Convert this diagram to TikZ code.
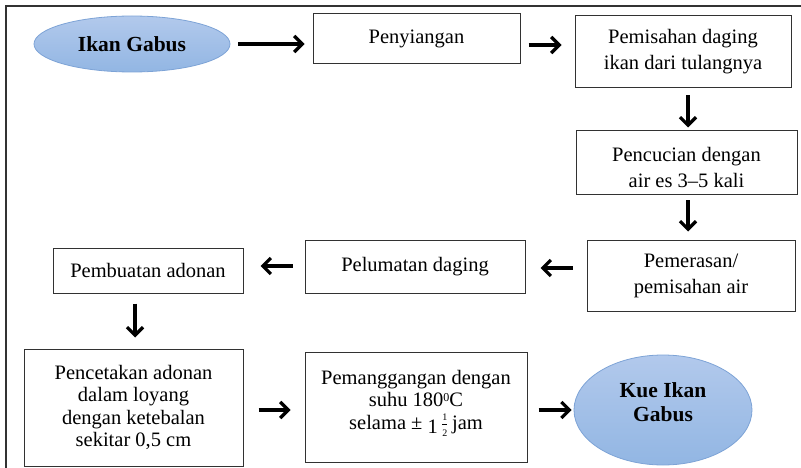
\documentclass[tikz,border=0pt]{standalone}
\usepackage{fontspec}
\setmainfont{Liberation Serif}
\usetikzlibrary{arrows.meta,shapes.geometric,calc}
\definecolor{boxline}{RGB}{50,50,50}
\definecolor{ovaltop}{RGB}{178,201,236}
\definecolor{ovalbot}{RGB}{146,182,227}
\definecolor{ovalline}{RGB}{125,163,214}
\begin{document}
\begin{tikzpicture}[x=1pt,y=-1pt,
  stepbox/.style={draw=boxline,line width=1pt,inner sep=0pt,align=center,
    font=\fontsize{20.5}{26}\selectfont},
  tight/.style={font=\fontsize{20.5}{22.5}\selectfont},
  boxtext/.style={inner sep=0pt,align=center,font=\fontsize{20.5}{26}\selectfont},
  oval/.style={ellipse,draw=ovalline,line width=0.8pt,top color=ovaltop,
    bottom color=ovalbot,inner sep=0pt,align=center,
    font=\bfseries\fontsize{21.5}{24}\selectfont},
  ovaltext/.style={inner sep=0pt,align=center,font=\bfseries\fontsize{21.5}{24}\selectfont},
  flow/.style={line width=3.2pt,-{Straight Barb[length=8pt,width=16pt]}}
]
\useasboundingbox (0,0) rectangle (801,468);
% outer frame (left and top edges)
\draw[boxline,line width=1.2pt] (6,468) -- (6,6) -- (801,6);

% process steps
\node[oval,minimum width=196pt,minimum height=56pt] (ikan) at (132,44) {Ikan Gabus};
\node[stepbox,minimum width=207pt,minimum height=50pt] (peny) at (416.5,39) {Penyiangan};
\node[stepbox,minimum width=216pt,minimum height=72pt] (pemis) at (683,52)
  {Pemisahan daging\\ikan dari tulangnya};
\node[stepbox,minimum width=221pt,minimum height=64pt,
  label={[boxtext,yshift=-4pt]center:Pencucian dengan\\air es 3--5 kali}] (pencuc) at (686.5,163) {};
\node[stepbox,minimum width=208pt,minimum height=71pt] (pemer) at (691,275.5)
  {Pemerasan/\\pemisahan air};
\node[stepbox,minimum width=220pt,minimum height=53pt] (pelum) at (415,266.5)
  {Pelumatan daging};
\node[stepbox,minimum width=190pt,minimum height=45pt] (pemb) at (148,270.5)
  {Pembuatan adonan};
\node[stepbox,tight,minimum width=219pt,minimum height=117pt] (pencet) at (133.5,407.5)
  {Pencetakan adonan\\dalam loyang\\dengan ketebalan\\sekitar 0,5 cm};
\node[stepbox,minimum width=222pt,minimum height=110pt,
  label={[boxtext,font=\fontsize{20.5}{22.5}\selectfont,yshift=4pt]center:Pemanggangan dengan\\suhu 180{\fontsize{12}{12}\selectfont\raisebox{5pt}{0}}C\\selama ±
   \raisebox{-4pt}{1}\,$\frac{\mbox{\fontsize{10}{10}\selectfont 1}}{\mbox{\fontsize{10}{10}\selectfont 2}}$\,jam}] (pemang) at (416,407) {};
\node[oval,minimum width=178pt,minimum height=110pt,
  label={[ovaltext,yshift=8pt]center:Kue Ikan\\Gabus}] (kue) at (663,410) {};

% connectors
\coordinate (a2) at ($(peny.east)+(0,6)$);
\coordinate (a3) at ($(pemis.south)+(5,0)$);
\coordinate (a4) at ($(pencuc.south)+(1.5,0)$);
\coordinate (a5) at ($(pemer.west)+(0,-7.5)$);
\coordinate (a6) at ($(pelum.west)+(0,-0.5)$);
\coordinate (a7) at ($(pemb.south)+(-13,0)$);
\coordinate (a8) at ($(pencet.east)+(0,2.5)$);
\coordinate (a9) at ($(pemang.east)+(0,3)$);
\draw[flow,shorten <=8pt,shorten >=8pt] (ikan.east) -- (ikan.east -| peny.west);
\draw[flow,shorten <=8pt,shorten >=13pt] (a2) -- (a2 -| pemis.west);
\draw[flow,shorten <=7pt,shorten >=3pt] (a3) -- (a3 |- pencuc.north);
\draw[flow,shorten <=5pt,shorten >=8pt] (a4) -- (a4 |- pemer.north);
\draw[flow,shorten <=14pt,shorten >=15pt] (a5) -- (a5 -| pelum.east);
\draw[flow,shorten <=12pt,shorten >=17pt] (a6) -- (a6 -| pemb.east);
\draw[flow,shorten <=10pt,shorten >=11pt] (a7) -- (a7 |- pencet.north);
\draw[flow,shorten <=15pt,shorten >=14pt] (a8) -- (a8 -| pemang.west);
\draw[flow,shorten <=11pt,shorten >=2pt] (a9) -- (a9 -| kue.west);
\end{tikzpicture}
\end{document}
